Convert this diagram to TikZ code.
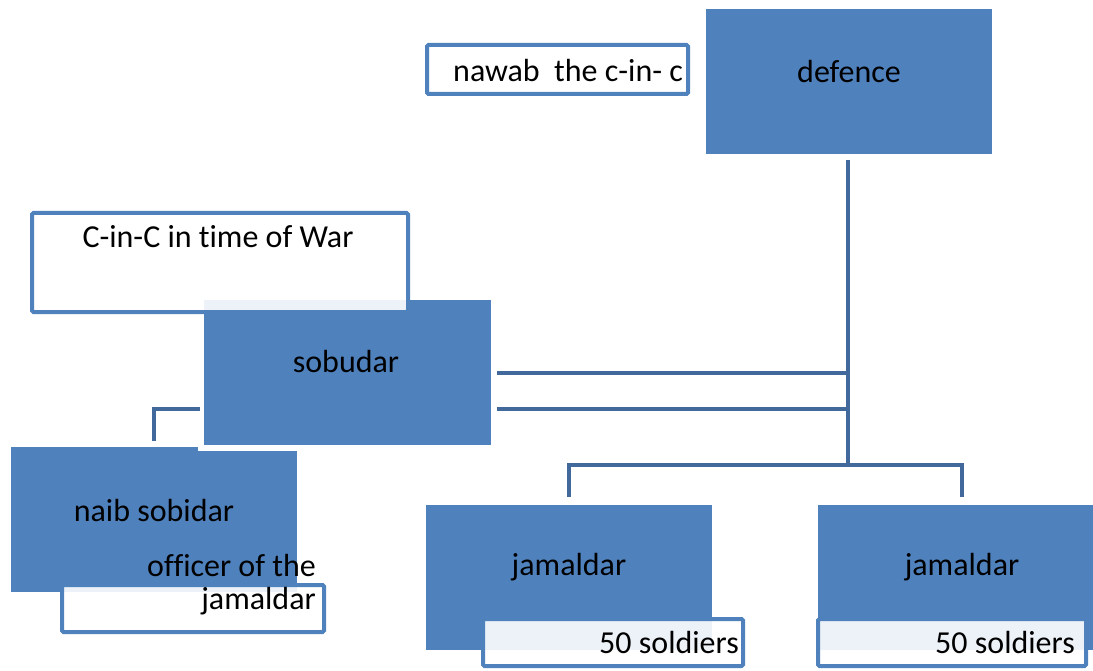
\documentclass[tikz,border=0pt]{standalone}
\usepackage{fontspec}
\setmainfont{Carlito}[Ligatures={NoCommon}]
\definecolor{boxblue}{HTML}{4F81BD}
\definecolor{linkblue}{RGB}{65,105,155}
\begin{document}
\begin{tikzpicture}[x=1pt,y=-1pt,
  bluebox/.style={draw=none,fill=boxblue,inner sep=0pt,outer sep=0pt,anchor=north west},
  whitebox/.style={draw=boxblue,line width=4pt,fill=white,fill opacity=0.9,draw opacity=1,rounded corners=1.5pt,inner sep=0pt,outer sep=0pt,anchor=north west},
  lbl/.style={font=\fontsize{32}{37}\selectfont,text=black,inner sep=0pt},
  link/.style={draw=linkblue,line width=4.5pt}]
\useasboundingbox (0,0) rectangle (1093,671);
% connectors
\coordinate (vtop) at (848,160);
\coordinate (vbot) at (848,465);
\coordinate (h1a) at (497,373);
\coordinate (h1b) at (848,373);
\coordinate (h2a) at (497,409);
\coordinate (h2b) at (848,409);
\coordinate (d1) at (569,497);
\coordinate (d2) at (962,497);
\coordinate (sl) at (200,409);
\coordinate (nd) at (154,441);
\draw[link] (vtop) -- (vbot);
\draw[link] (h1a) -- (h1b);
\draw[link] (h2a) -- (h2b);
\draw[link] (d1) |- (vbot) -| (d2);
\draw[link] (sl) -| (nd);
% defence
\node[bluebox,minimum width=286pt,minimum height=145pt] (def) at (706,9) {};
\node[lbl,yshift=10pt] (deft) at (def.center) {defence};
\node[whitebox,minimum width=261pt,minimum height=49pt] (nawab) at (427,45) {};
\node[lbl,anchor=west] (nawabt) at (453,71) {nawab\ \ the c-in- c};
% sobudar
\node[bluebox,minimum width=287pt,minimum height=145pt] (sob) at (204,300) {};
\node[lbl] (sobt) at (346,362) {sobudar};
\node[whitebox,minimum width=376pt,minimum height=99pt] (cinc) at (32,213) {};
\node[lbl] (cinct) at (218,237) {C-in-C in time of War};
% naib
\fill[boxblue] (11,447) rectangle (198,452);
\node[bluebox,minimum width=286pt,minimum height=141pt] (naib) at (11,451) {};
\node[lbl] (naibt) at (154,511) {naib sobidar};
\node[whitebox,minimum width=262pt,minimum height=47pt] (off) at (62,585) {};
\node[lbl,anchor=east] (offt1) at (316,566) {officer of the};
\node[lbl,anchor=east] (offt2) at (316,601) {jamaldar};
% jamaldars
\node[bluebox,minimum width=286pt,minimum height=145pt] (jam1) at (426,505) {};
\node[lbl] (jam1t) at (569,567) {jamaldar};
\node[bluebox,minimum width=286pt,minimum height=145pt] (jam2) at (818,505) {};
\node[lbl] (jam2t) at (962,567) {jamaldar};
\node[whitebox,minimum width=260pt,minimum height=47pt] (sol1) at (483,619) {};
\node[lbl,anchor=east] (sol1t) at (739,643) {50 soldiers};
\node[whitebox,minimum width=268pt,minimum height=47pt] (sol2) at (818,619) {};
\node[lbl,anchor=east] (sol2t) at (1075,643) {50 soldiers};
\end{tikzpicture}
\end{document}
